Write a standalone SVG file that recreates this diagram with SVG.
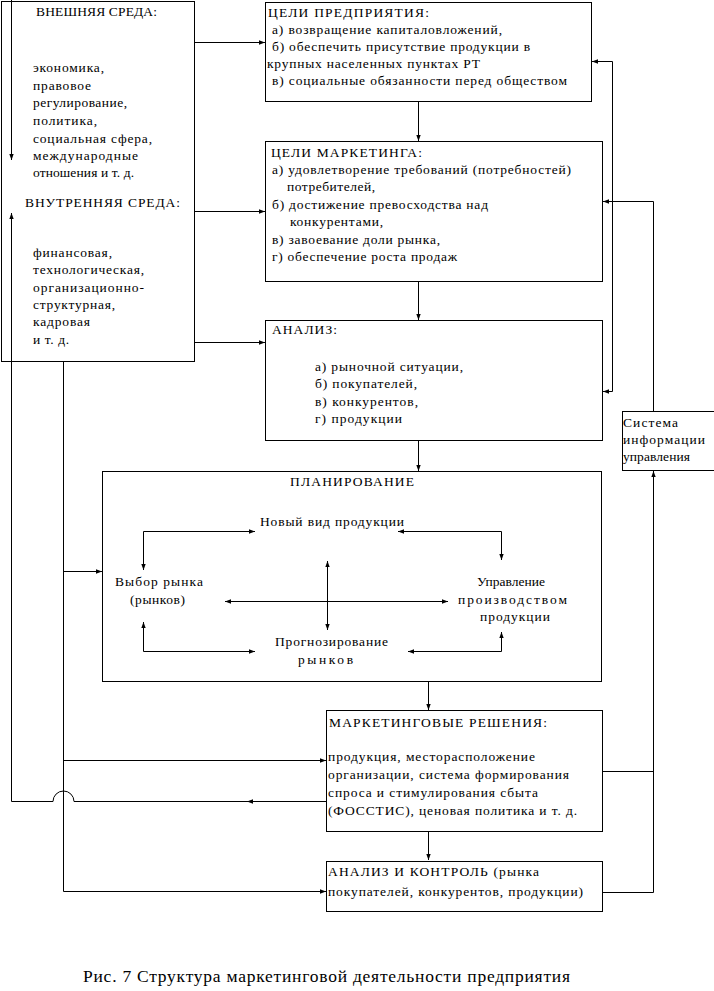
<svg xmlns="http://www.w3.org/2000/svg" width="714" height="991" viewBox="0 0 714 991">
<style>
.box{fill:#fff;stroke:#000;stroke-width:1}
.ln{fill:none;stroke:#000;stroke-width:1}
.a{marker-end:url(#ah)}
.b{marker-start:url(#ah);marker-end:url(#ah)}
text{font-family:"Liberation Serif","DejaVu Serif",serif;font-size:13.5px;fill:#000}
.cap{font-size:17.5px}
</style>
<defs>
<marker id="ah" viewBox="0 0 6 6" refX="6" refY="3" markerWidth="6" markerHeight="6" markerUnits="userSpaceOnUse" orient="auto-start-reverse">
<path d="M0,0.8 L6,3 L0,5.2 Z" fill="#000"/>
</marker>
</defs>
<rect width="714" height="991" fill="#fff"/>

<g id="connectors">
<path class="ln a" d="M11.5,0 V160"/>
<path class="ln a" d="M194,42.5 H265"/>
<path class="ln a" d="M194,211.5 H265"/>
<path class="ln a" d="M194,342.5 H265"/>
<path class="ln a" d="M418.5,101 V141"/>
<path class="ln a" d="M418.5,281 V320"/>
<path class="ln a" d="M418.5,441 V471"/>
<path class="ln a" d="M428.5,681 V710"/>
<path class="ln a" d="M428.5,831 V860"/>
<path class="ln b" d="M592,61.5 H612.5 V391.5 H603"/>
<path class="ln a" d="M653.5,411 V201.5 H603"/>
<path class="ln" d="M603,771.5 H653.5"/>
<path class="ln a" d="M603,892.5 H653.5 V471"/>
<path class="ln a" d="M63.5,361 V891.5 H326"/>
<path class="ln a" d="M63.5,571.5 H102"/>
<path class="ln a" d="M63.5,760.5 H326"/>
<path class="ln a" d="M326,801.5 H247"/>
<path class="ln a" d="M248,801.5 H74 A10.5,10.5 0 0 0 53,801.5 H11.5 V213"/>
<path class="ln b" d="M255,531.5 H143.5 V570"/>
<path class="ln b" d="M398,531.5 H501.5 V560"/>
<path class="ln b" d="M225,601.5 H448"/>
<path class="ln b" d="M327.5,561 V630"/>
<path class="ln b" d="M143.5,622 V651.5 H255"/>
<path class="ln b" d="M408,651.5 H501.5 V632"/>
</g>

<g id="external-internal">
<rect class="box" x="1.5" y="1.5" width="193" height="360" style="fill:none"/>
<text x="36" y="16" textLength="121" lengthAdjust="spacing">ВНЕШНЯЯ СРЕДА:</text>
<text x="33" y="72" textLength="71" lengthAdjust="spacing">экономика,</text>
<text x="33" y="90" textLength="58" lengthAdjust="spacing">правовое</text>
<text x="33" y="107" textLength="94" lengthAdjust="spacing">регулирование,</text>
<text x="33" y="125" textLength="64" lengthAdjust="spacing">политика,</text>
<text x="33" y="143" textLength="119" lengthAdjust="spacing">социальная сфера,</text>
<text x="33" y="160" textLength="105" lengthAdjust="spacing">международные</text>
<text x="33" y="177" textLength="101" lengthAdjust="spacing">отношения и т. д.</text>
<text x="25" y="207" textLength="155" lengthAdjust="spacing">ВНУТРЕННЯЯ СРЕДА:</text>
<text x="33" y="257" textLength="79" lengthAdjust="spacing">финансовая,</text>
<text x="33" y="274" textLength="111" lengthAdjust="spacing">технологическая,</text>
<text x="33" y="292" textLength="111" lengthAdjust="spacing">организационно-</text>
<text x="33" y="309" textLength="82" lengthAdjust="spacing">структурная,</text>
<text x="33" y="326" textLength="57" lengthAdjust="spacing">кадровая</text>
<text x="33" y="344" textLength="36" lengthAdjust="spacing">и т. д.</text>
</g>

<g id="goals-enterprise">
<rect class="box" x="265.5" y="2.5" width="326" height="99"/>
<text x="268" y="17" textLength="161" lengthAdjust="spacing">ЦЕЛИ ПРЕДПРИЯТИЯ:</text>
<text x="272" y="34" textLength="230" lengthAdjust="spacing">а) возвращение капиталовложений,</text>
<text x="272" y="51" textLength="258" lengthAdjust="spacing">б) обеспечить присутствие продукции в</text>
<text x="267" y="68" textLength="213" lengthAdjust="spacing">крупных населенных пунктах РТ</text>
<text x="272" y="85" textLength="295" lengthAdjust="spacing">в) социальные обязанности перед обществом</text>
</g>

<g id="goals-marketing">
<rect class="box" x="265.5" y="141.5" width="337" height="140"/>
<text x="271" y="157" textLength="151" lengthAdjust="spacing">ЦЕЛИ МАРКЕТИНГА:</text>
<text x="272" y="174" textLength="299" lengthAdjust="spacing">а) удовлетворение требований (потребностей)</text>
<text x="287" y="191" textLength="88" lengthAdjust="spacing">потребителей,</text>
<text x="272" y="209" textLength="216" lengthAdjust="spacing">б) достижение превосходства над</text>
<text x="290" y="226" textLength="93" lengthAdjust="spacing">конкурентами,</text>
<text x="272" y="244" textLength="168" lengthAdjust="spacing">в) завоевание доли рынка,</text>
<text x="272" y="261" textLength="185" lengthAdjust="spacing">г) обеспечение роста продаж</text>
</g>

<g id="analysis">
<rect class="box" x="265.5" y="320.5" width="337" height="120"/>
<text x="272" y="334" textLength="65" lengthAdjust="spacing">АНАЛИЗ:</text>
<text x="315" y="371" textLength="148" lengthAdjust="spacing">а) рыночной ситуации,</text>
<text x="315" y="388" textLength="102" lengthAdjust="spacing">б) покупателей,</text>
<text x="315" y="406" textLength="103" lengthAdjust="spacing">в) конкурентов,</text>
<text x="315" y="423" textLength="87" lengthAdjust="spacing">г) продукции</text>
</g>

<g id="planning">
<rect class="box" x="102.5" y="471.5" width="499" height="210" style="fill:none"/>
<text x="290" y="486" textLength="124" lengthAdjust="spacing">ПЛАНИРОВАНИЕ</text>
<text x="260" y="526" textLength="144" lengthAdjust="spacing">Новый вид продукции</text>
<text x="115" y="586" textLength="88" lengthAdjust="spacing">Выбор рынка</text>
<text x="130" y="604" textLength="55" lengthAdjust="spacing">(рынков)</text>
<text x="477" y="586" textLength="68" lengthAdjust="spacing">Управление</text>
<text x="458" y="604" textLength="109" lengthAdjust="spacing">производством</text>
<text x="480" y="621" textLength="70" lengthAdjust="spacing">продукции</text>
<text x="275" y="646" textLength="113" lengthAdjust="spacing">Прогнозирование</text>
<text x="298" y="664" textLength="55" lengthAdjust="spacing">рынков</text>
</g>

<g id="mis">
<rect class="box" x="622.5" y="411.5" width="100" height="59"/>
<text x="623" y="427" textLength="55" lengthAdjust="spacing">Система</text>
<text x="623" y="444" textLength="82" lengthAdjust="spacing">информации</text>
<text x="623" y="461" textLength="67" lengthAdjust="spacing">управления</text>
</g>

<g id="marketing-decisions">
<rect class="box" x="326.5" y="710.5" width="276" height="121"/>
<text x="329" y="727" textLength="218" lengthAdjust="spacing">МАРКЕТИНГОВЫЕ РЕШЕНИЯ:</text>
<text x="328" y="761" textLength="207" lengthAdjust="spacing">продукция, месторасположение</text>
<text x="328" y="779" textLength="241" lengthAdjust="spacing">организации, система формирования</text>
<text x="328" y="797" textLength="210" lengthAdjust="spacing">спроса и стимулирования сбыта</text>
<text x="328" y="815" textLength="249" lengthAdjust="spacing">(ФОССТИС), ценовая политика и т. д.</text>
</g>

<g id="analysis-control">
<rect class="box" x="326.5" y="861.5" width="276" height="50"/>
<text x="328" y="876" textLength="211" lengthAdjust="spacing">АНАЛИЗ И КОНТРОЛЬ (рынка</text>
<text x="328" y="896" textLength="255" lengthAdjust="spacing">покупателей, конкурентов, продукции)</text>
</g>

<text class="cap" x="83" y="982" textLength="487" lengthAdjust="spacing">Рис. 7 Структура маркетинговой деятельности предприятия</text>
</svg>
